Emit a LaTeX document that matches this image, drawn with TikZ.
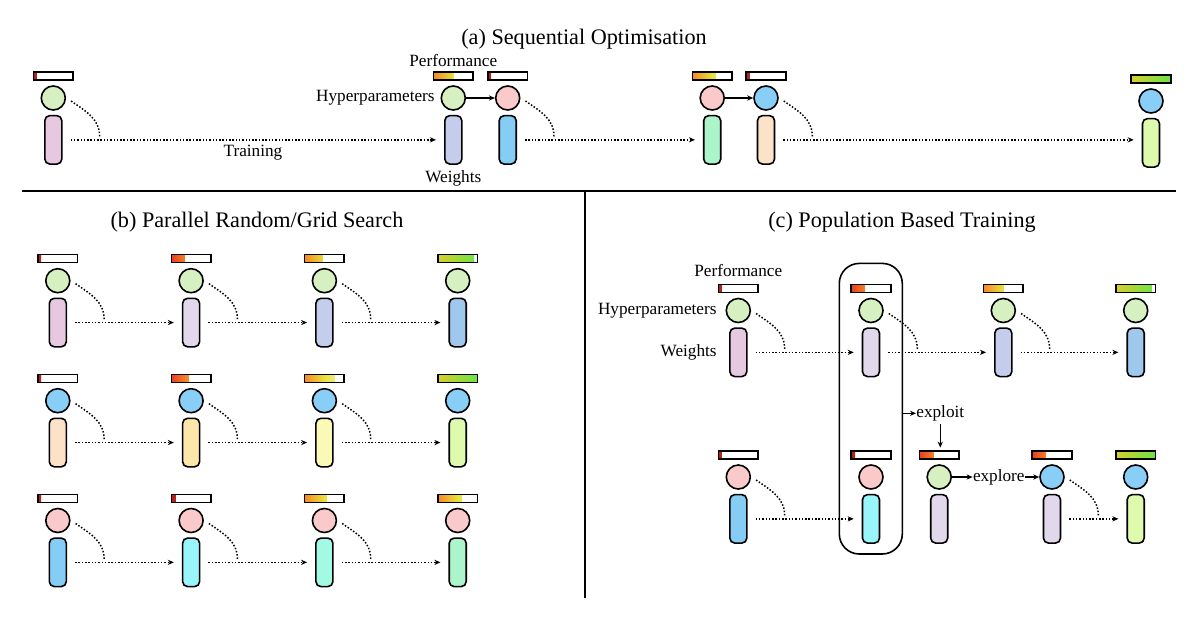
\documentclass[tikz,border=0pt]{standalone}
\usepackage{fontspec}
\setmainfont{Liberation Serif}
\usetikzlibrary{positioning, calc, arrows.meta}

\definecolor{hgreen}{RGB}{214,240,194}
\definecolor{hpink}{RGB}{250,202,202}
\definecolor{hblue}{RGB}{136,206,247}
\definecolor{wmauve}{RGB}{230,200,224}
\definecolor{wlav}{RGB}{226,216,236}
\definecolor{wperi}{RGB}{196,206,236}
\definecolor{wblue}{RGB}{160,200,236}
\definecolor{wsky}{RGB}{134,205,245}
\definecolor{wcyan}{RGB}{152,245,250}
\definecolor{waqua}{RGB}{162,250,228}
\definecolor{wmint}{RGB}{172,244,202}
\definecolor{wpeach}{RGB}{252,226,200}
\definecolor{wsand}{RGB}{253,230,170}
\definecolor{wlemon}{RGB}{250,250,182}
\definecolor{wlime}{RGB}{222,250,172}
\definecolor{pdark}{RGB}{175,35,25}
\definecolor{pred}{RGB}{235,60,35}
\definecolor{porange}{RGB}{245,160,45}
\definecolor{pyellow}{RGB}{232,226,60}
\definecolor{polive}{RGB}{215,205,45}
\definecolor{pgreen}{RGB}{105,230,70}

\tikzset{
  hyp/.style={circle, draw, line width=0.8pt, minimum size=12pt, inner sep=0pt},
  wts/.style={rectangle, draw, line width=0.8pt, rounded corners=2.5pt, minimum width=8.5pt, minimum height=24.25pt, inner sep=0pt},
  perf/.style 2 args={rectangle, draw, line width=0.8pt, fill=white, minimum width=19.75pt, minimum height=4pt, inner sep=0pt,
    path picture={\shade[#1] (path picture bounding box.south west) rectangle ([xshift=#2*19.75pt]path picture bounding box.north west);}},
  g1/.style={left color=pdark, right color=pred},
  g2/.style={left color=pred, right color=pyellow!55, middle color=porange},
  g3/.style={left color=porange!85!red, right color=pyellow!35, middle color=pyellow},
  g4/.style={left color=polive, right color=pgreen},
  lbl/.style={inner sep=0pt, font=\fontsize{8.6}{10}\selectfont},
  ttl/.style={inner sep=0pt, font=\fontsize{11.1}{13}\selectfont},
  dots/.style={line width=0.75pt, dash pattern=on 0.75pt off 0.9pt},
  go/.style={-{Stealth[length=3pt, width=2.6pt]}},
  rule/.style={line width=1pt}
}

\newcommand{\agent}[7]{%
  \node[hyp, fill=#4] (#1h) at (#2,#3) {};
  \node[wts, fill=#5, below=2pt of #1h] (#1w) {};
  \node[perf={#6}{#7}, above=2.25pt of #1h] (#1p) {};}
\newcommand{\trail}[2]{%
  \draw[dots] ([shift={(5,3)}]#1h.east) to[out=-35,in=90] ([shift={(37,-3.5)}]#1w.east);
  \draw[dots, go, shorten <=4pt, shorten >=4pt] (#1w.east) -- (#1w.east -| #2w.west);}

\begin{document}
\begin{tikzpicture}[x=0.5pt, y=-0.5pt]
  \useasboundingbox (0,0) rectangle (1200,626);
  \draw[rule] (22,191) -- (1176,191);
  \draw[line width=0.8pt] (585,191) -- (585,598);

  \node[ttl] (ta) at (584,39) {(a) Sequential Optimisation};
  \node[ttl] (tb) at (257,221.7) {(b) Parallel Random/Grid Search};
  \node[ttl] (tc) at (902,221.7) {(c) Population Based Training};

  \foreach \n/\x/\y/\hc/\wc/\g/\f in {a1/53.3/98/hgreen/wmauve/g1/0.08, a2/453.3/98/hgreen/wperi/g3/0.5,
      a3/507.7/98/hpink/wsky/g1/0.08, a4/712.2/98/hpink/wmint/g3/0.6,
      a5/766/98/hblue/wpeach/g1/0.08, a6/1151/101/hblue/wlime/g4/1}
    {\agent{\n}{\x}{\y}{\hc}{\wc}{\g}{\f}}
  \foreach \n/\x/\y/\hc/\wc/\g/\f in {b11/57.8/280.7/hgreen/wmauve/g1/0.08, b12/191.1/280.7/hgreen/wlav/g2/0.35,
      b13/324.4/280.7/hgreen/wperi/g3/0.45, b14/457.7/280.7/hgreen/wblue/g4/0.9,
      b21/57.8/400.7/hblue/wpeach/g1/0.08, b22/191.1/400.7/hblue/wsand/g2/0.45,
      b23/324.4/400.7/hblue/wlemon/g3/0.75, b24/457.7/400.7/hblue/wlime/g4/1,
      b31/57.8/520.5/hpink/wsky/g1/0.08, b32/191.1/520.5/hpink/wcyan/g1/0.1,
      b33/324.4/520.5/hpink/waqua/g3/0.55, b34/457.7/520.5/hpink/wmint/g3/0.6}
    {\agent{\n}{\x}{\y}{\hc}{\wc}{\g}{\f}}
  \foreach \n/\x/\y/\hc/\wc/\g/\f in {c1/738.3/310.5/hgreen/wmauve/g1/0.08, c2/871/310.5/hgreen/wlav/g2/0.35,
      c3/1003.3/310.5/hgreen/wperi/g3/0.5, c4/1135.7/310.5/hgreen/wblue/g4/0.9,
      c8/738.3/477/hpink/wsky/g1/0.08, c9/871/477/hpink/wcyan/g1/0.1,
      c5/939.2/477/hgreen/wlav/g2/0.35, c6/1052/477/hblue/wlav/g2/0.35,
      c7/1135.7/477/hblue/wlime/g4/1}
    {\agent{\n}{\x}{\y}{\hc}{\wc}{\g}{\f}}

  \foreach \from/\to in {a1/a2, a3/a4, a5/a6, b11/b12, b12/b13, b13/b14, b21/b22, b22/b23, b23/b24,
      b31/b32, b32/b33, b33/b34, c1/c2, c2/c3, c3/c4, c8/c9, c6/c7}
    {\trail{\from}{\to}}

  \draw[go, line width=0.75pt] (a2h) -- (a3h);
  \draw[go, line width=0.75pt] (a4h) -- (a5h);
  \node[lbl, above=2pt of a2p] (perfa) {Performance};
  \node[lbl, left=2.75pt of a2h] (hypa) {Hyperparameters};
  \node[lbl, below=2.8pt of a2w] (wtsa) {Weights};
  \node[lbl] (train) at (253,153) {Training};

  \node[draw, line width=0.8pt, rounded corners=10pt, minimum width=31.5pt, minimum height=145.3pt] (pop) at (870.8,408.7) {};
  \node[lbl, above=3.5pt of c1p] (perfc) {Performance};
  \node[lbl, left=4.3pt of c1h] (hypc) {Hyperparameters};
  \node[lbl, left=6pt of c1w] (wtsc) {Weights};
  \node[lbl, anchor=west] (ex) at (916,413.3) {exploit};
  \node[lbl, right=10.3pt of c5h] (xp) {explore};
  \draw[go, line width=0.75pt] (pop.east |- ex.west) -- (ex.west);
  \draw[go, line width=0.75pt, shorten <=1.3pt, shorten >=1.25pt] (ex.south) -- (ex.south |- c5p.north);
  \draw[go, line width=0.75pt] (c5h) -- (xp);
  \draw[go, line width=0.75pt] (xp) -- (c6h);
\end{tikzpicture}
\end{document}
